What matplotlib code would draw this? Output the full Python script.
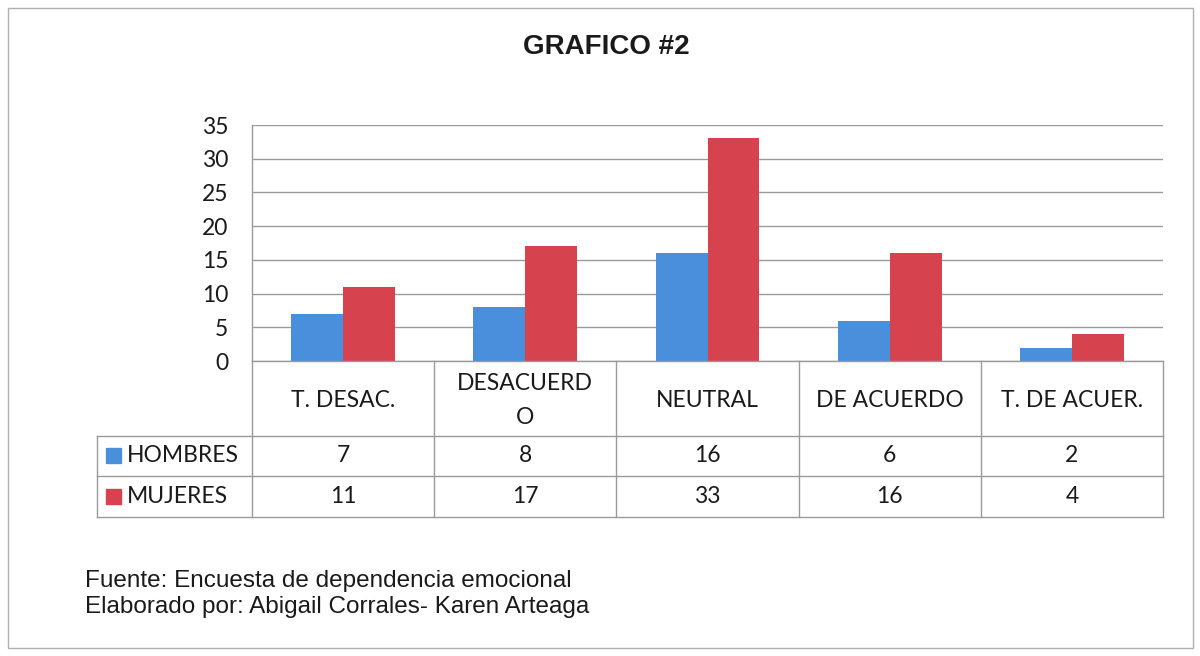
import matplotlib
matplotlib.use("Agg")
import matplotlib.pyplot as plt
from matplotlib.patches import Rectangle
from matplotlib.lines import Line2D
import matplotlib.transforms as mtransforms

categories = ["T. DESAC.", "DESACUERD\nO", "NEUTRAL", "DE ACUERDO", "T. DE ACUER."]
hombres = [7, 8, 16, 6, 2]
mujeres = [11, 17, 33, 16, 4]
series_names = ["HOMBRES", "MUJERES"]
yticks = [0, 5, 10, 15, 20, 25, 30, 35]
title = "GRAFICO #2"
footer = ["Fuente: Encuesta de dependencia emocional",
          "Elaborado por: Abigail Corrales- Karen Arteaga"]

BLUE = "#4a8fdc"
RED = "#d6434f"
GRID = "#9a9a9a"
TXT = "#1a1a1a"
FONT = "Lato"

W, H = 1200, 656
fig = plt.figure(figsize=(W / 100, H / 100), dpi=100)
fig.patch.set_facecolor("white")

def fx(px):
    return px / W

def fy(py):
    return 1 - py / H

# outer frame
fig.add_artist(Rectangle((fx(8), fy(648)), fx(1193) - fx(8), fy(8) - fy(648),
                         transform=fig.transFigure, fill=False, edgecolor="#b0b0b0", lw=1.0))

left, right, top, bottom = 252, 1163, 125, 361
ax = fig.add_axes([fx(left), fy(bottom), fx(right) - fx(left), fy(top) - fy(bottom)])
n = len(categories)
x = list(range(n))
bw = 0.285
ax.bar([i - bw / 2 for i in x], hombres, width=bw, color=BLUE, zorder=3)
ax.bar([i + bw / 2 for i in x], mujeres, width=bw, color=RED, zorder=3)
ax.set_xlim(-0.5, n - 0.5)
ax.set_ylim(0, 35)
ax.set_yticks(yticks)
ax.set_yticklabels([str(t) for t in yticks], fontsize=16.5, family=FONT, color=TXT)
ax.tick_params(axis="y", length=0, pad=17)
ax.set_xticks([])
ax.yaxis.grid(True, color=GRID, lw=1.0, zorder=0)
for s in ["top", "right", "bottom"]:
    ax.spines[s].set_visible(False)
ax.spines["left"].set_color(GRID)
ax.spines["left"].set_linewidth(1.0)

# title
fig.text(fx(606), fy(47), title, ha="center", va="center", fontsize=20,
         fontweight="bold", family="Liberation Sans", color=TXT)

# data table
trans = mtransforms.blended_transform_factory(ax.transData, fig.transFigure)
row_y = [361, 436, 476, 517]
tab_left = 97
lc = dict(color=GRID, lw=1.0)
fig.add_artist(Line2D([fx(left), fx(right)], [fy(361), fy(361)], transform=fig.transFigure, **lc))
for yy in row_y[1:]:
    fig.add_artist(Line2D([fx(tab_left), fx(right)], [fy(yy), fy(yy)], transform=fig.transFigure, **lc))
for b in [i - 0.5 for i in range(n + 1)]:
    fig.add_artist(Line2D([b, b], [fy(361), fy(517)], transform=trans, **lc))
fig.add_artist(Line2D([fx(tab_left), fx(tab_left)], [fy(436), fy(517)], transform=fig.transFigure, **lc))

fs_tab = 16.5
for i, c in enumerate(categories):
    fig.text(i, fy((361 + 436) / 2 + 2), c, transform=trans, ha="center", va="center",
             fontsize=fs_tab, family=FONT, color=TXT, linespacing=1.75)
rows = [hombres, mujeres]
colors = [BLUE, RED]
for r, (vals, name, col) in enumerate(zip(rows, series_names, colors)):
    yc = fy((row_y[r + 1] + row_y[r + 2]) / 2)
    for i, v in enumerate(vals):
        fig.text(i, yc, str(v), transform=trans, ha="center", va="center",
                 fontsize=fs_tab, family=FONT, color=TXT)
    fig.add_artist(Rectangle((fx(106), yc - 7.5 / H), 15 / W, 15 / H,
                             transform=fig.transFigure, color=col))
    fig.text(fx(127), yc, name, ha="left", va="center", fontsize=fs_tab,
             family=FONT, color=TXT)

# footer
fig.text(fx(85), fy(581), footer[0], ha="left", va="center", fontsize=17.5,
         family="Liberation Sans", color=TXT)
fig.text(fx(85), fy(607), footer[1], ha="left", va="center", fontsize=17.5,
         family="Liberation Sans", color=TXT)

fig.savefig("out.png", dpi=100, facecolor="white")
